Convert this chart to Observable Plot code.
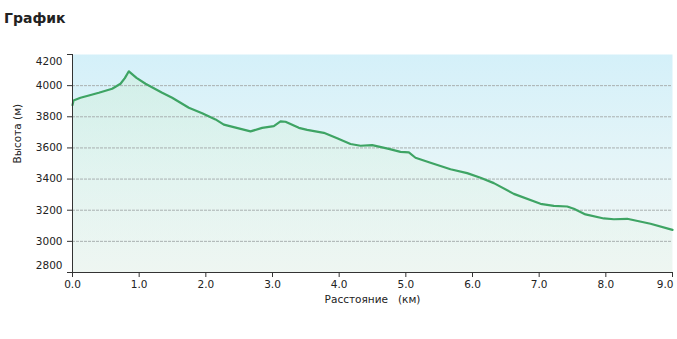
<!DOCTYPE html>
<html>
<head>
<meta charset="utf-8">
<script src="https://cdn.jsdelivr.net/npm/d3@7"></script>
<script src="https://cdn.jsdelivr.net/npm/@observablehq/plot@0.6"></script>
<style>
  html, body { margin: 0; padding: 0; background: #fff; }
  #wrap { position: relative; width: 677px; height: 339px; }
  #title { position: absolute; left: 4px; top: 11px; font: bold 14px/1 "DejaVu Sans", Verdana, sans-serif; color: #222; }
  svg { display: block; }
</style>
</head>
<body>
<div id="wrap"><div id="title">График</div></div>
<script>
const distance = [0.0, 0.015, 0.12, 0.245, 0.395, 0.595, 0.72, 0.785, 0.845, 0.96, 1.095, 1.345, 1.495, 1.745, 1.945, 2.145, 2.27, 2.67, 2.845, 3.02, 3.12, 3.195, 3.395, 3.52, 3.77, 3.97, 4.17, 4.32, 4.495, 4.745, 4.92, 5.045, 5.145, 5.37, 5.67, 5.92, 6.12, 6.32, 6.62, 7.02, 7.22, 7.42, 7.52, 7.695, 7.97, 8.12, 8.32, 8.67, 9.0];
const elevation = [3875, 3905, 3922, 3937, 3954, 3980, 4012, 4048, 4092, 4050, 4012, 3954, 3922, 3858, 3823, 3783, 3750, 3706, 3729, 3740, 3770, 3768, 3729, 3716, 3697, 3662, 3625, 3614, 3618, 3594, 3575, 3571, 3537, 3505, 3463, 3438, 3408, 3374, 3305, 3241, 3228, 3224, 3209, 3173, 3147, 3142, 3145, 3113, 3074];
const xTicks = [0, 1, 2, 3, 4, 5, 6, 7, 8];
const xLast = [9];
const yGrid = [3000, 3200, 3400, 3600, 3800, 4000];
const yEnds = [2800, 4200];
const xLabel = "Расстояние\u00a0\u00a0 (км)";
const yLabel = "Высота (м)";

const data = distance.map((d, i) => ({d, e: elevation[i]}));
const fmtX = d3.format(".1f");
const fmtY = d3.format("d");

const plot = Plot.plot({
  width: 677,
  height: 339,
  marginTop: 54,
  marginBottom: 67,
  marginLeft: 72,
  marginRight: 5,
  style: {fontFamily: "'DejaVu Sans', Verdana, sans-serif", fontSize: "10.5px", color: "#222", background: "transparent"},
  x: {domain: [0, 9]},
  y: {domain: yEnds},
  marks: [
    Plot.frame({fill: "url(#bgGrad)", stroke: null}),
    Plot.areaY(data, {x: "d", y1: yEnds[0], y2: "e", fill: "url(#areaGrad)", curve: "linear"}),
    Plot.ruleY(yGrid, {stroke: "#a9b0b0", strokeWidth: 1, strokeDasharray: "3,1"}),
    Plot.line(data, {x: "d", y: "e", stroke: "#3ea464", strokeWidth: 2.2, curve: "linear"}),
    Plot.ruleX([0], {stroke: "#333", strokeWidth: 1}),
    Plot.ruleY([yEnds[0]], {stroke: "#333", strokeWidth: 1}),
    Plot.axisX({ticks: xTicks, tickFormat: fmtX, tickSize: 5, tickPadding: 3, label: null, stroke: "#333"}),
    Plot.axisX({ticks: xLast, tickFormat: () => "", tickSize: 5, label: null, stroke: "#333"}),
    Plot.axisX({ticks: xLast, tickFormat: fmtX, tickSize: 0, tickPadding: 8, textAnchor: "end", dx: 1, label: null}),
    Plot.axisY({ticks: yGrid, tickFormat: fmtY, tickSize: 5, tickPadding: 5, label: null, stroke: "#333"}),
    Plot.axisY({ticks: yEnds, tickSize: 5, tickFormat: () => "", label: null, stroke: "#333"}),
    Plot.axisY({ticks: [yEnds[1]], tickFormat: fmtY, tickSize: 0, tickPadding: 10, dy: 7, label: null}),
    Plot.axisY({ticks: [yEnds[0]], tickFormat: fmtY, tickSize: 0, tickPadding: 10, dy: -7, label: null}),
    Plot.text([xLabel], {frameAnchor: "bottom", dy: 30, fill: "#222", fontSize: 10.5}),
    Plot.text([yLabel], {frameAnchor: "left", dx: -55, rotate: -90, fill: "#222", fontSize: 10.5})
  ]
});

const defs = d3.select(plot).insert("defs", ":first-child");
const bg = defs.append("linearGradient").attr("id", "bgGrad").attr("x1", 0).attr("y1", 0).attr("x2", 0).attr("y2", 1);
bg.append("stop").attr("offset", "0%").attr("stop-color", "#d4f0f9");
bg.append("stop").attr("offset", "50%").attr("stop-color", "#e5f5f8");
bg.append("stop").attr("offset", "100%").attr("stop-color", "#f0f6f3");
const ag = defs.append("linearGradient").attr("id", "areaGrad").attr("x1", 0).attr("y1", 0).attr("x2", 0).attr("y2", 1);
ag.append("stop").attr("offset", "0%").attr("stop-color", "#cdeedb").attr("stop-opacity", 0.55);
ag.append("stop").attr("offset", "100%").attr("stop-color", "#eaf6ee").attr("stop-opacity", 0.3);

document.getElementById("wrap").prepend(plot);
</script>
</body>
</html>
